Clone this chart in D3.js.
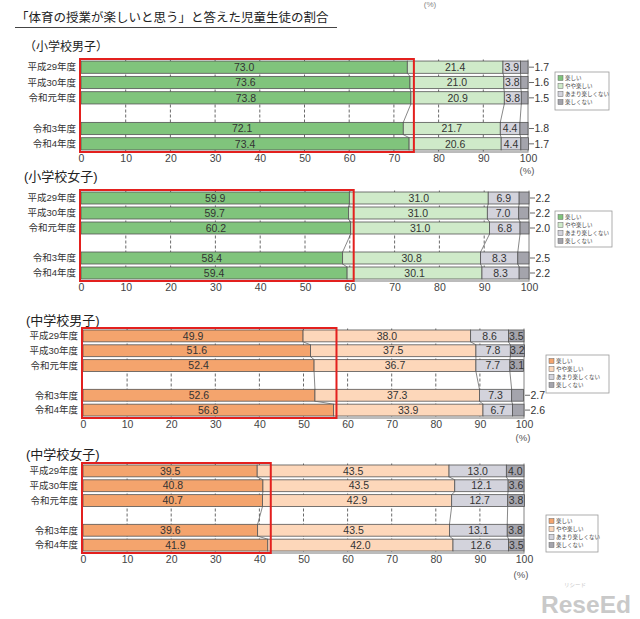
<!DOCTYPE html>
<html><head><meta charset="utf-8">
<script src="https://cdn.jsdelivr.net/npm/d3@7"></script>
<style>
html,body{margin:0;padding:0;background:#fff;}
svg{display:block;font-family:"Liberation Sans","Noto Sans CJK JP",sans-serif;}
</style></head>
<body>
<svg id="chart" width="640" height="619"></svg>
<script>
// ---------- DATA ----------
const categories = ["平成29年度","平成30年度","令和元年度","令和3年度","令和4年度"];
const slots = ["平成29年度","平成30年度","令和元年度","(gap)","令和3年度","令和4年度"];
const seriesNames = ["楽しい","やや楽しい","あまり楽しくない","楽しくない"];
const tickValues = [0,10,20,30,40,50,60,70,80,90,100];
const mainTitle = "「体育の授業が楽しいと思う」と答えた児童生徒の割合";
const panelTitles = ["（小学校男子）","(小学校女子)","(中学校男子)","(中学校女子)"];

// 小学校男子
const esBoysEnjoy    = [73.0, 73.6, 73.8, 72.1, 73.4];
const esBoysSomewhat = [21.4, 21.0, 20.9, 21.7, 20.6];
const esBoysNotMuch  = [3.9, 3.8, 3.8, 4.4, 4.4];
const esBoysNot      = [1.7, 1.6, 1.5, 1.8, 1.7];
// 小学校女子
const esGirlsEnjoy    = [59.9, 59.7, 60.2, 58.4, 59.4];
const esGirlsSomewhat = [31.0, 31.0, 31.0, 30.8, 30.1];
const esGirlsNotMuch  = [6.9, 7.0, 6.8, 8.3, 8.3];
const esGirlsNot      = [2.2, 2.2, 2.0, 2.5, 2.2];
// 中学校男子
const jhBoysEnjoy    = [49.9, 51.6, 52.4, 52.6, 56.8];
const jhBoysSomewhat = [38.0, 37.5, 36.7, 37.3, 33.9];
const jhBoysNotMuch  = [8.6, 7.8, 7.7, 7.3, 6.7];
const jhBoysNot      = [3.5, 3.2, 3.1, 2.7, 2.6];
// 中学校女子
const jhGirlsEnjoy    = [39.5, 40.8, 40.7, 39.6, 41.9];
const jhGirlsSomewhat = [43.5, 43.5, 42.9, 43.5, 42.0];
const jhGirlsNotMuch  = [13.0, 12.1, 12.7, 13.1, 12.6];
const jhGirlsNot      = [4.0, 3.6, 3.8, 3.8, 3.5];

const greenColors  = ["#80c47c","#cfeac9","#d3d3dc","#a4a4ac"];
const orangeColors = ["#f4a46d","#fdd7ba","#d3d3dc","#a4a4ac"];

// ---------- LAYOUT ----------
const panels = [
  {title:panelTitles[0], series:[esBoysEnjoy,esBoysSomewhat,esBoysNotMuch,esBoysNot], colors:greenColors,
   x0:81, x1:528, top:59.5, bottom:151.5, titleX:24, titleY:51, titleSize:12,
   legend:{x:555,y:72,w:54,h:38}, pct:{x:527,y:174}},
  {title:panelTitles[1], series:[esGirlsEnjoy,esGirlsSomewhat,esGirlsNotMuch,esGirlsNot], colors:greenColors,
   x0:81, x1:529, top:190.5, bottom:280.5, titleX:24, titleY:181, titleSize:13,
   legend:{x:555,y:211,w:57,h:36}, pct:null},
  {title:panelTitles[2], series:[jhBoysEnjoy,jhBoysSomewhat,jhBoysNotMuch,jhBoysNot], colors:orangeColors,
   x0:83, x1:524, top:328.5, bottom:417.5, titleX:26, titleY:324.5, titleSize:13,
   legend:{x:546,y:355,w:63,h:38}, pct:{x:523,y:441}},
  {title:panelTitles[3], series:[jhGirlsEnjoy,jhGirlsSomewhat,jhGirlsNotMuch,jhGirlsNot], colors:orangeColors,
   x0:83, x1:524, top:463.5, bottom:552.5, titleX:26, titleY:459, titleSize:13,
   legend:{x:546,y:515,w:52,h:37}, pct:{x:521,y:578}}
];

const svg = d3.select("#chart");

// main title
svg.append("text").attr("x",16).attr("y",22).attr("font-size",12.5)
  .attr("fill","#222").text(mainTitle);
svg.append("line").attr("x1",15).attr("x2",337).attr("y1",27.5).attr("y2",27.5)
  .attr("stroke","#444").attr("stroke-width",1);
// small "(%)" at the very top
svg.append("text").attr("x",430).attr("y",7).attr("font-size",8).attr("fill","#888")
  .attr("text-anchor","middle").text("(%)");

panels.forEach(p => {
  const g = svg.append("g");
  const x = d3.scaleLinear().domain([0,100]).range([p.x0,p.x1]);
  const y = d3.scaleBand().domain(slots).range([p.top,p.bottom]).paddingInner(0.2).paddingOuter(0.1);
  const bw = y.bandwidth();

  // panel title
  g.append("text").attr("x",p.titleX).attr("y",p.titleY).attr("font-size",p.titleSize)
    .attr("fill","#222").text(p.title);

  // gridlines
  g.selectAll(".grid").data(tickValues.filter(t=>t>0 && t<100)).join("line")
    .attr("x1",d=>x(d)).attr("x2",d=>x(d)).attr("y1",p.top).attr("y2",p.bottom)
    .attr("stroke","#444").attr("stroke-width",0.8).attr("stroke-dasharray","3,2");
  g.append("line").attr("x1",x(100)).attr("x2",x(100)).attr("y1",p.top).attr("y2",p.bottom)
    .attr("stroke","#666").attr("stroke-width",0.8);

  // stacked rows
  const rows = categories.map((c,i) => {
    let acc = 0;
    const segs = p.series.map((s,k) => { const a = acc; acc += s[i]; return {k, v:s[i], a, b:acc}; });
    return {c, i, segs};
  });

  // connector lines between consecutive rows
  for (let i=0;i<rows.length-1;i++){
    const r0 = rows[i], r1 = rows[i+1];
    for (let k=0;k<3;k++){
      g.append("line")
        .attr("x1",x(r0.segs[k].b)).attr("y1",y(r0.c)+bw)
        .attr("x2",x(r1.segs[k].b)).attr("y2",y(r1.c))
        .attr("stroke","#555").attr("stroke-width",0.7);
    }
  }

  rows.forEach(r => {
    const yy = y(r.c);
    g.append("text").attr("x",p.x0-5).attr("y",yy+bw/2).attr("dy","0.35em")
      .attr("text-anchor","end").attr("font-size",9.5).attr("fill","#333").text(r.c);
    r.segs.forEach(s => {
      g.append("rect").attr("x",x(s.a)).attr("y",yy)
        .attr("width",Math.max(0,x(s.b)-x(s.a))).attr("height",bw)
        .attr("fill",p.colors[s.k]).attr("stroke","#555").attr("stroke-width",0.8);
    });
    r.segs.forEach(s => {
      if (s.k===3 && s.v < 3) {
        const lx = x(100);
        g.append("line").attr("x1",lx+1).attr("x2",lx+6).attr("y1",yy+bw/2).attr("y2",yy+bw/2)
          .attr("stroke","#444").attr("stroke-width",0.8);
        g.append("text").attr("x",lx+6.5).attr("y",yy+bw/2).attr("dy","0.35em")
          .attr("font-size",10.5).attr("fill","#333").text(s.v.toFixed(1));
      } else {
        g.append("text").attr("x",(x(s.a)+x(s.b))/2).attr("y",yy+bw/2).attr("dy","0.35em")
          .attr("text-anchor","middle").attr("font-size",10.5).attr("fill","#333")
          .text(s.v.toFixed(1));
      }
    });
  });

  // axis
  const ax = g.append("g").attr("transform",`translate(0,${p.bottom})`)
    .call(d3.axisBottom(x).tickValues(tickValues).tickSize(0).tickPadding(3.5).tickFormat(d3.format("d")));
  ax.select(".domain").attr("stroke","#555").attr("stroke-width",0.8);
  ax.selectAll("text").attr("font-size",10.5).attr("fill","#444")
    .attr("font-family","Liberation Sans, sans-serif");

  if (p.pct) {
    g.append("text").attr("x",p.pct.x).attr("y",p.pct.y).attr("text-anchor","middle")
      .attr("font-size",9.5).attr("fill","#555").text("(%)");
  }

  // red highlight rectangle
  const maxEnjoy = d3.max(p.series[0]);
  g.append("rect").attr("x",x(0)-1).attr("y",p.top-0.5)
    .attr("width",x(maxEnjoy)-x(0)+4).attr("height",p.bottom-p.top+1)
    .attr("fill","none").attr("stroke","#e3201e").attr("stroke-width",2);

  // legend
  const L = p.legend;
  const lg = g.append("g").attr("transform",`translate(${L.x},${L.y})`);
  lg.append("rect").attr("width",L.w).attr("height",L.h).attr("fill","#fff")
    .attr("stroke","#999").attr("stroke-width",0.8);
  seriesNames.forEach((n,k) => {
    const ly = 6 + k*8;
    lg.append("rect").attr("x",3).attr("y",ly-2.5).attr("width",5).attr("height",5)
      .attr("fill",p.colors[k]).attr("stroke","#666").attr("stroke-width",0.5);
    lg.append("text").attr("x",10).attr("y",ly).attr("dy","0.35em")
      .attr("font-size",5.5).attr("fill","#444").attr("font-family","Noto Sans CJK JP, sans-serif").text(n);
  });
});

// watermark
svg.append("text").attr("x",541).attr("y",613).attr("font-size",24).attr("font-weight","bold")
  .attr("fill","#c9c9c9").attr("font-family","Liberation Sans, sans-serif")
  .attr("textLength",90).attr("lengthAdjust","spacingAndGlyphs").text("ReseEd");
svg.append("text").attr("x",564).attr("y",587).attr("font-size",5.5).attr("fill","#c9c9c9")
  .attr("font-family","Noto Sans CJK JP, sans-serif").text("リシード");
</script>
</body></html>
